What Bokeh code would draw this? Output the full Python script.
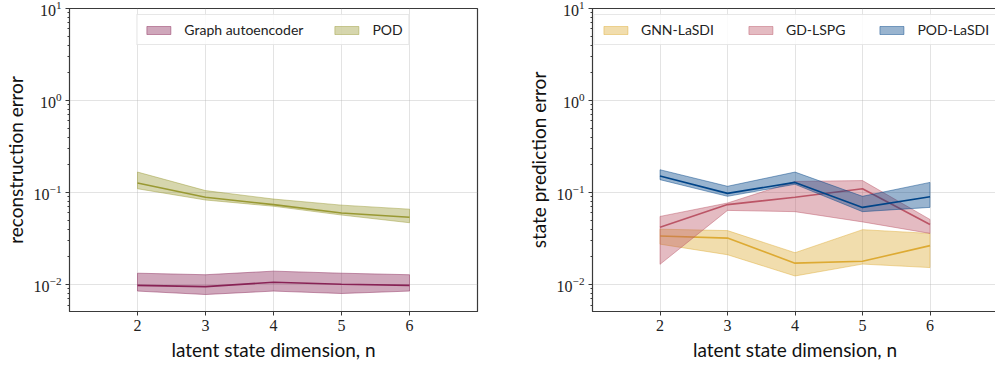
from bokeh.plotting import figure
from bokeh.layouts import row
from bokeh.models import Range1d, FixedTicker, Legend
from bokeh.embed import file_html
from bokeh.resources import INLINE

# ---------------- data ----------------
n_vals = [2, 3, 4, 5, 6]

# left panel: reconstruction error
gae_mean = [0.0098, 0.0095, 0.0106, 0.0101, 0.0098]
gae_upper = [0.0133, 0.0128, 0.0140, 0.0133, 0.0128]
gae_lower = [0.0085, 0.0078, 0.0085, 0.0080, 0.0085]

pod_mean = [0.127, 0.089, 0.074, 0.060, 0.054]
pod_upper = [0.167, 0.105, 0.085, 0.073, 0.066]
pod_lower = [0.110, 0.083, 0.071, 0.057, 0.047]

# right panel: state prediction error
gnn_mean = [0.0337, 0.0320, 0.0171, 0.0179, 0.0265]
gnn_upper = [0.0400, 0.0386, 0.0222, 0.0395, 0.0360]
gnn_lower = [0.0275, 0.0211, 0.0124, 0.0167, 0.0153]

gd_mean = [0.042, 0.074, 0.089, 0.110, 0.045]
gd_upper = [0.055, 0.077, 0.132, 0.135, 0.051]
gd_lower = [0.0166, 0.064, 0.062, 0.048, 0.036]

podl_mean = [0.151, 0.098, 0.129, 0.069, 0.090]
podl_upper = [0.177, 0.117, 0.167, 0.091, 0.129]
podl_lower = [0.138, 0.091, 0.123, 0.062, 0.069]

left_series = [
    ("Graph autoencoder", "#882255", gae_mean, gae_upper, gae_lower),
    ("POD", "#999933", pod_mean, pod_upper, pod_lower),
]
right_series = [
    ("GNN-LaSDI", "#DDAA33", gnn_mean, gnn_upper, gnn_lower),
    ("GD-LSPG", "#BB5566", gd_mean, gd_upper, gd_lower),
    ("POD-LaSDI", "#004488", podl_mean, podl_upper, podl_lower),
]

SANS = "Lato"
SERIF = "Liberation Serif"
SPINE = "#3a3a3a"


def make_panel(series, ylabel, frame_w, border_left, border_right, legend_spacing):
    p = figure(frame_width=frame_w, frame_height=303, y_axis_type="log",
               x_range=Range1d(1, 7), y_range=Range1d(0.0051, 10),
               output_backend="svg", toolbar_location=None,
               min_border_left=border_left, min_border_right=border_right,
               min_border_top=8, min_border_bottom=50)
    p.background_fill_color = "white"
    p.border_fill_color = "white"
    p.outline_line_color = SPINE
    p.outline_line_width = 1.2

    items = []
    for name, color, mean, upper, lower in series:
        xs = list(n_vals) + list(n_vals)[::-1]
        ys = list(upper) + list(lower)[::-1]
        band = p.patch(xs, ys, fill_color=color, fill_alpha=0.4,
                       line_color=color, line_alpha=0.45, line_width=1)
        p.line(n_vals, mean, line_color=color, line_width=1.6)
        items.append((name, [band]))

    legend = Legend(items=items, orientation="horizontal", location="top_center")
    legend.label_text_font = SANS
    legend.label_text_font_size = "14px"
    legend.label_text_color = "#222222"
    legend.glyph_width = 30
    legend.glyph_height = 10
    legend.label_standoff = 11
    legend.spacing = legend_spacing
    legend.padding = 6
    legend.margin = 6
    legend.border_line_color = "#d0d0d0"
    legend.border_line_width = 1
    legend.background_fill_alpha = 0.85
    p.add_layout(legend, "center")

    p.xaxis.ticker = FixedTicker(ticks=n_vals)
    p.xaxis.axis_label = "latent state dimension, n"
    p.yaxis.axis_label = ylabel
    for ax in (p.xaxis, p.yaxis):
        ax.axis_label_text_font = SANS
        ax.axis_label_text_font_size = "19px"
        ax.axis_label_text_font_style = "normal"
        ax.axis_label_text_color = "#111111"
        ax.major_label_text_font = SERIF
        ax.major_label_text_font_size = "16px"
        ax.major_label_text_color = "#222222"
        ax.axis_line_color = SPINE
        ax.major_tick_line_color = SPINE
        ax.minor_tick_line_color = SPINE
        ax.major_tick_out = 4
        ax.major_tick_in = 0
        ax.minor_tick_out = 2
        ax.minor_tick_in = 0
        ax.major_label_standoff = 4
        ax.axis_label_standoff = 4
    p.xaxis.minor_tick_line_color = None

    p.xgrid.grid_line_color = "#b0b0b0"
    p.xgrid.grid_line_alpha = 0.35
    p.ygrid.grid_line_color = "#b0b0b0"
    p.ygrid.grid_line_alpha = 0.35
    return p


p1 = make_panel(left_series, "reconstruction error", 408, 68, 17, 28)
p2 = make_panel(right_series, "state prediction error", 405, 98, 2, 31)

layout = row(p1, p2)
open("out.html", "w").write(file_html(layout, INLINE))
